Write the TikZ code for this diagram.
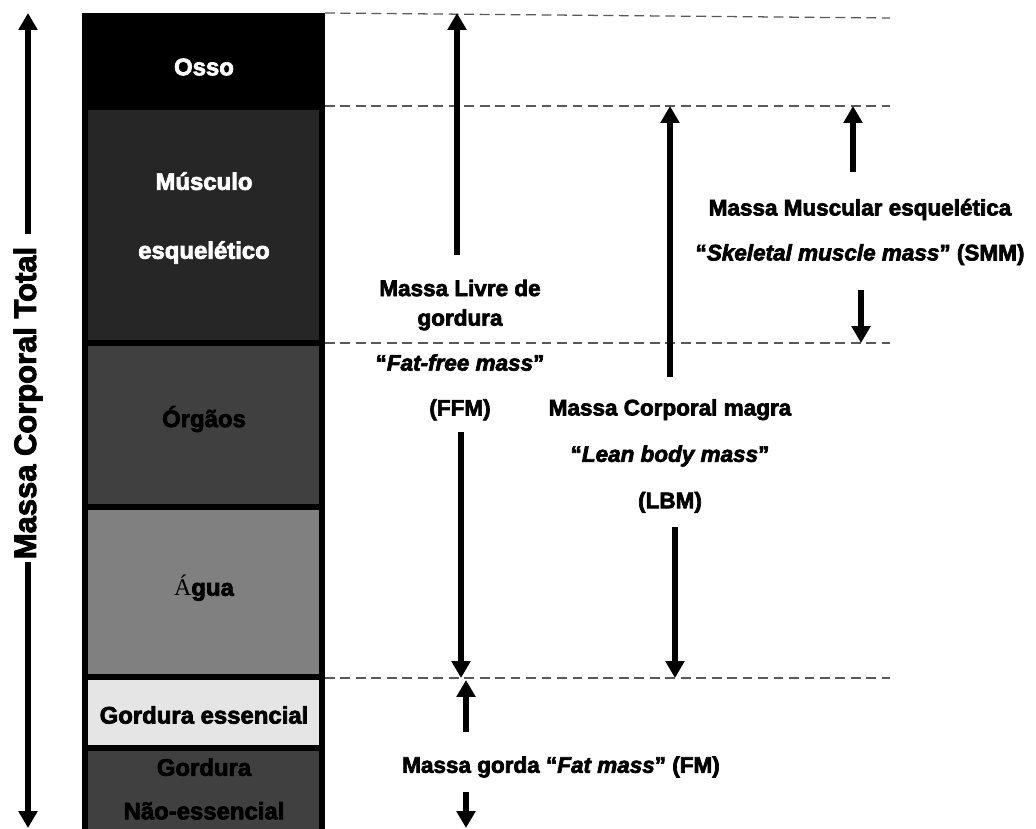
\documentclass[tikz,border=0pt]{standalone}
\usepackage{fontspec}
\setmainfont{Liberation Sans}[BoldFeatures={FakeBold=3},BoldItalicFeatures={FakeBold=3}]
\newfontfamily\serifA{Liberation Serif}
\usetikzlibrary{arrows.meta}
\definecolor{muscle}{gray}{0.15}
\definecolor{organ}{gray}{0.25}
\definecolor{water}{gray}{0.5}
\definecolor{essfat}{gray}{0.9}
\definecolor{guide}{gray}{0.35}
\begin{document}
\begin{tikzpicture}[x=0.025cm,y=-0.025cm]
        \tikzstyle{every node}=[font=\fontsize{16}{19}\selectfont\bfseries, inner sep=0pt, align=center];
        \tikzstyle{layertext}=[font=\fontsize{17}{20}\selectfont\bfseries];
        \tikzstyle{layer}=[draw=black, line width=4.5pt];
        \tikzstyle{guideline}=[draw=guide, line width=0.9pt, dash pattern=on 7pt off 4pt];
        \tikzstyle{bigarrow}=[line width=4pt, -{Triangle[width=13pt,length=12pt]}];
        \useasboundingbox (0,0) rectangle (1036,828);
        \clip (0,0) rectangle (1036,828);

        % column of layers
        \draw[layer, fill=black] (85,16) rectangle (322,107);
        \foreach \ytop/\ybot/\shade in {107/343/muscle,343/507/organ,507/677/water,677/748/essfat,748/850/organ}{
          \draw[layer, fill=\shade] (85,\ytop) rectangle (322,\ybot);
        }
        \draw[guideline] (325,13) -- (890,18);
        \foreach \y in {106,343,678}{
          \draw[guideline] (325,\y) -- (890,\y);
        }

        \node[layertext, text=white](osso) at (204,67) {Osso};
        \node[text=white, font=\fontsize{17}{49}\selectfont\bfseries](musc) at (204,218) {Músculo\\esquelético};
        \node[layertext](orgaos) at (204,419) {Órgãos};
        \node[layertext](agua) at (204,588) {{\serifA\mdseries Á}gua};
        \node[layertext](essfat) at (204,715) {Gordura essencial};
        \node[font=\fontsize{17}{31}\selectfont\bfseries](nessfat) at (204,789) {Gordura\\Não-essencial};

        \node[rotate=90, font=\fontsize{22}{25}\selectfont\bfseries](total) at (28,403) {Massa Corporal Total};
        \node[font=\fontsize{16}{21}\selectfont\bfseries](ffm) at (460,350) {Massa Livre de\\gordura\\[11pt]“\textit{Fat-free mass}”\\[11pt](FFM)};
        \node[font=\fontsize{16}{33}\selectfont\bfseries](lbm) at (670,456) {Massa Corporal magra\\“\textit{Lean body mass}”\\(LBM)};
        \node[font=\fontsize{16}{32}\selectfont\bfseries](smm) at (860,232) {Massa Muscular esquelética\\“\textit{Skeletal muscle mass}” (SMM)};
        \node(fm) at (561,767) {Massa gorda “\textit{Fat mass}” (FM)};

        \coordinate (totA) at (28,234);  \coordinate (totB) at (28,13);
        \coordinate (totC) at (28,562);  \coordinate (totD) at (28,828);
        \coordinate (ffmA) at (457,255); \coordinate (ffmB) at (457,13);
        \coordinate (ffmC) at (461,432); \coordinate (ffmD) at (461,678);
        \coordinate (lbmA) at (670,377); \coordinate (lbmB) at (670,106);
        \coordinate (lbmC) at (675,527); \coordinate (lbmD) at (675,678);
        \coordinate (smmA) at (853,172); \coordinate (smmB) at (853,106);
        \coordinate (smmC) at (861,290); \coordinate (smmD) at (861,343);
        \coordinate (fmA) at (466,732);  \coordinate (fmB) at (466,680);
        \coordinate (fmC) at (466,792);  \coordinate (fmD) at (466,828);

        \foreach \a/\b in {totA/totB,totC/totD,ffmA/ffmB,ffmC/ffmD,lbmA/lbmB,lbmC/lbmD,smmA/smmB,smmC/smmD,fmA/fmB,fmC/fmD}{
          \draw[bigarrow] (\a) -- (\b);
        }
        %\draw[guideline] (890,13) -- (890,678);
      \end{tikzpicture}
\end{document}
